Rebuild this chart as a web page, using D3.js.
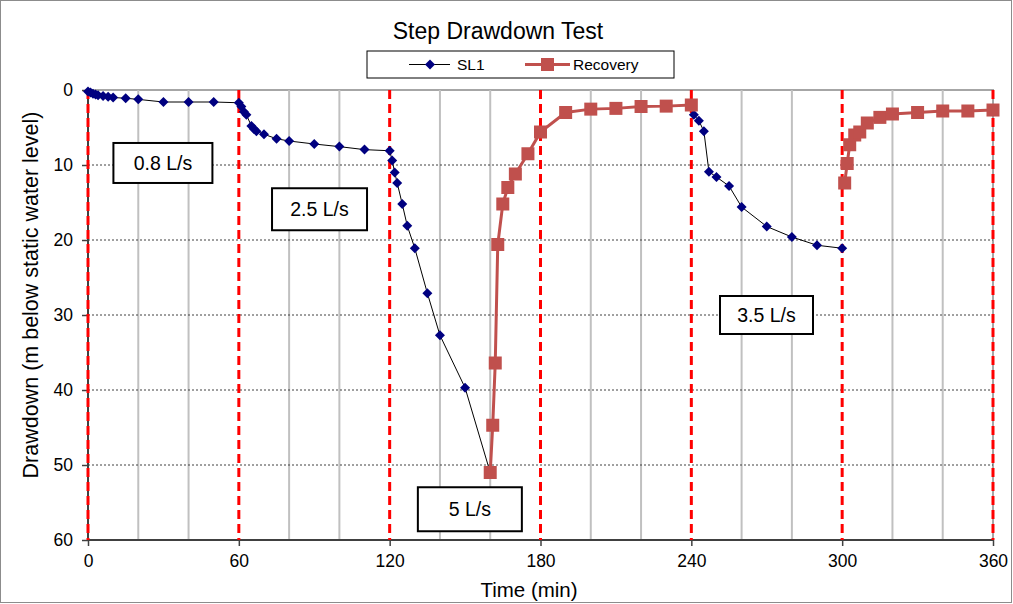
<!DOCTYPE html>
<html>
<head>
<meta charset="utf-8">
<script src="https://cdn.jsdelivr.net/npm/d3@7"></script>
<style>
  html, body { margin: 0; padding: 0; background: #fff; }
  svg { display: block; font-family: "Liberation Sans", Arial, sans-serif; }
</style>
</head>
<body>
<svg id="chart" width="1013" height="604"></svg>
<script>
// ---- Data ----
// SL1 drawdown (null marks a break between pumping steps)
const sl1Time = [0, 1, 2, 3, 4, 6, 8, 10, 15, 20, 30, 40, 50, 60,
                 61, 62, 63, 65, 66, 67, 70, 75, 80, 90, 100, 110, 120,
                 121, 122, 123, 125, 127, 130, 135, 140, 150, 160,
                 null,
                 241, 243, 245, 247, 250, 255, 260, 270, 280, 290, 300];
const sl1Drawdown = [0.2, 0.35, 0.5, 0.6, 0.7, 0.8, 0.9, 1.0, 1.1, 1.25, 1.6, 1.6, 1.6, 1.7,
                     2.2, 2.9, 3.3, 4.8, 5.2, 5.5, 5.9, 6.5, 6.8, 7.2, 7.55, 7.95, 8.1,
                     9.4, 11.0, 12.4, 15.2, 18.1, 21.1, 27.1, 32.7, 39.7, 51.0,
                     null,
                     3.3, 4.1, 5.5, 10.9, 11.6, 12.8, 15.6, 18.2, 19.6, 20.7, 21.1];
// Recovery drawdown
const recTime = [160, 161, 162, 163, 165, 167, 170, 175, 180, 190, 200, 210, 220, 230, 240,
                 null,
                 301, 302, 303, 305, 307, 310, 315, 320, 330, 340, 350, 360];
const recDrawdown = [51.0, 44.7, 36.4, 20.6, 15.2, 13.0, 11.2, 8.5, 5.6, 3.0, 2.55, 2.45, 2.2, 2.15, 2.0,
                     null,
                     12.4, 9.8, 7.3, 6.0, 5.6, 4.4, 3.65, 3.2, 3.0, 2.8, 2.8, 2.67];
// Step boundaries (minutes)
const stepTimes = [0, 60, 120, 180, 240, 300, 360];
// Pumping rate labels
const rateLabels = ["0.8 L/s", "2.5 L/s", "5 L/s", "3.5 L/s"];
const rateTime = [29.8, 92.1, 151.9, 269.9];
const rateDepth = [9.73, 15.9, 55.9, 30.0];
const xTicks = [0, 60, 120, 180, 240, 300, 360];
const xGrid = [20, 40, 80, 100, 140, 160, 200, 220, 260, 280, 320, 340];
const yTicks = [0, 10, 20, 30, 40, 50, 60];

// ---- Layout ----
const svg = d3.select("#chart");
const mL = 88, mR = 993, mT = 90, mB = 540;
const x = d3.scaleLinear().domain([0, 360]).range([mL, mR]);
const y = d3.scaleLinear().domain([0, 60]).range([mT, mB]);

// outer border
svg.append("rect").attr("x", 0.5).attr("y", 0.5).attr("width", 1011).attr("height", 602)
  .attr("fill", "#fff").attr("stroke", "#8c8c8c").attr("stroke-width", 1);

// plot area border (top/right)
svg.append("path")
  .attr("d", `M${mL},${mT}H${mR}V${mB}`)
  .attr("fill", "none").attr("stroke", "#a6a6a6").attr("stroke-width", 2);

// vertical grid
svg.append("g").selectAll("line").data(xGrid).join("line")
  .attr("x1", d => x(d)).attr("x2", d => x(d))
  .attr("y1", mT).attr("y2", mB)
  .attr("stroke", "#c0c0c0").attr("stroke-width", 2);

// horizontal grid
svg.append("g").selectAll("line").data(yTicks.filter(d => d > 0 && d < 60)).join("line")
  .attr("x1", mL).attr("x2", mR)
  .attr("y1", d => y(d)).attr("y2", d => y(d))
  .attr("stroke", "#404040").attr("stroke-width", 1).attr("stroke-dasharray", "2,2");

// axes
const yAxis = d3.axisLeft(y).tickValues(yTicks).tickSize(6).tickPadding(9);
const gy = svg.append("g").attr("transform", `translate(${mL},0)`).call(yAxis);
const xAxis = d3.axisBottom(x).tickValues(xTicks).tickSize(6).tickPadding(9);
const gx = svg.append("g").attr("transform", `translate(0,${mB})`).call(xAxis);
[gx, gy].forEach(g => {
  g.select(".domain").attr("stroke", "#404040").attr("stroke-width", 2);
  g.selectAll(".tick line").attr("stroke", "#404040").attr("stroke-width", 1.5);
  g.selectAll("text").attr("font-family", "Liberation Sans, Arial, sans-serif")
    .attr("font-size", 17.5).attr("fill", "#000");
});
gx.selectAll(".domain").attr("d", `M${mL},0H${mR}`);
gy.selectAll(".domain").attr("d", `M0,${mT}V${mB}`);

// step boundary red dashed lines
svg.append("g").selectAll("line").data(stepTimes).join("line")
  .attr("x1", d => x(d)).attr("x2", d => x(d))
  .attr("y1", mT).attr("y2", mB)
  .attr("stroke", "#ff0000").attr("stroke-width", 3).attr("stroke-dasharray", "9,5");

// SL1 series
const sl1 = sl1Time.map((t, i) => ({t, d: sl1Drawdown[i]}));
const line = d3.line().defined(p => p.t !== null && p.d !== null)
  .x(p => x(p.t)).y(p => y(p.d));
svg.append("path").datum(sl1).attr("d", line)
  .attr("fill", "none").attr("stroke", "#000").attr("stroke-width", 1);
const diamond = d3.symbol().type(d3.symbolSquare).size(50)();
svg.append("g").selectAll("path").data(sl1.filter(p => p.t !== null)).join("path")
  .attr("d", diamond)
  .attr("transform", p => `translate(${x(p.t)},${y(p.d)}) rotate(45)`)
  .attr("fill", "#000080");

// Recovery series
const rec = recTime.map((t, i) => ({t, d: recDrawdown[i]}));
svg.append("path").datum(rec).attr("d", line)
  .attr("fill", "none").attr("stroke", "#c0504d").attr("stroke-width", 3);
svg.append("g").selectAll("rect").data(rec.filter(p => p.t !== null)).join("rect")
  .attr("x", p => x(p.t) - 6.5).attr("y", p => y(p.d) - 6.5)
  .attr("width", 13).attr("height", 13)
  .attr("fill", "#c0504d");

// Rate label boxes
const boxW = [99, 95, 104, 93], boxH = [40, 42, 44, 38];
rateLabels.forEach((lab, i) => {
  const cx = x(rateTime[i]), cy = y(rateDepth[i]);
  svg.append("rect").attr("x", cx - boxW[i] / 2).attr("y", cy - boxH[i] / 2)
    .attr("width", boxW[i]).attr("height", boxH[i])
    .attr("fill", "#fff").attr("stroke", "#000").attr("stroke-width", 2);
  svg.append("text").attr("x", cx).attr("y", cy + 7).attr("text-anchor", "middle")
    .attr("font-size", 19.5).attr("fill", "#000").text(lab);
});

// Title
svg.append("text").attr("x", 498).attr("y", 39).attr("text-anchor", "middle")
  .attr("font-size", 23).attr("fill", "#000").text("Step Drawdown Test");

// Legend
svg.append("rect").attr("x", 367).attr("y", 51).attr("width", 307).attr("height", 27)
  .attr("fill", "#fff").attr("stroke", "#000").attr("stroke-width", 1);
svg.append("line").attr("x1", 409).attr("x2", 450).attr("y1", 64.5).attr("y2", 64.5)
  .attr("stroke", "#000").attr("stroke-width", 1);
svg.append("path").attr("d", diamond).attr("transform", "translate(430,64.5) rotate(45)")
  .attr("fill", "#000080");
svg.append("text").attr("x", 457).attr("y", 70).attr("font-size", 15.5).attr("fill", "#000").text("SL1");
svg.append("line").attr("x1", 525).attr("x2", 570).attr("y1", 64.5).attr("y2", 64.5)
  .attr("stroke", "#c0504d").attr("stroke-width", 3);
svg.append("rect").attr("x", 541).attr("y", 58).attr("width", 13).attr("height", 13)
  .attr("fill", "#c0504d");
svg.append("text").attr("x", 573).attr("y", 70).attr("font-size", 15.5).attr("fill", "#000").text("Recovery");

// Axis titles
svg.append("text").attr("x", 529).attr("y", 597).attr("text-anchor", "middle")
  .attr("font-size", 20.5).attr("fill", "#000").text("Time (min)");
svg.append("text").attr("transform", `translate(38,295) rotate(-90)`)
  .attr("text-anchor", "middle").attr("font-size", 21.5).attr("fill", "#000")
  .text("Drawdown (m below static water level)");
</script>
</body>
</html>
